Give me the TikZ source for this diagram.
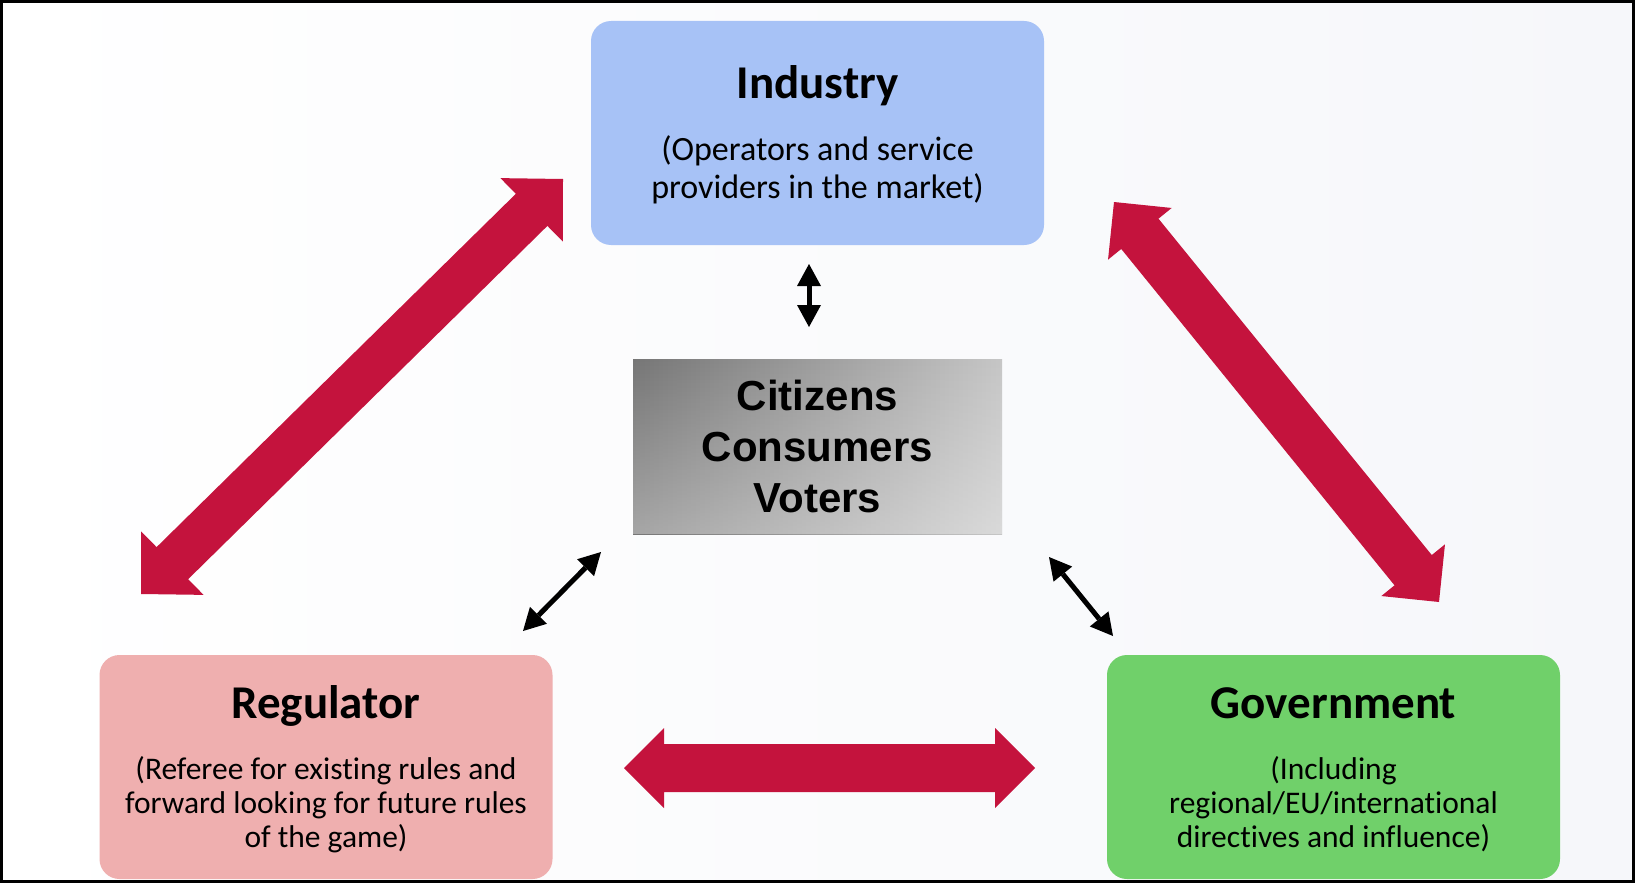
\documentclass[tikz,border=0pt]{standalone}
\usepackage{fontspec}
\setmainfont{Carlito}[Ligatures=CommonOff]
\newfontfamily\arialfont{Liberation Sans}
\usetikzlibrary{calc,arrows.meta,fadings}
\definecolor{indblue}{HTML}{A7C2F6}
\definecolor{regpink}{HTML}{EFAFAF}
\definecolor{govgreen}{HTML}{70D06A}
\definecolor{arrred}{HTML}{C4133D}
\definecolor{gdark}{HTML}{767676}
\definecolor{glight}{HTML}{C6C6C6}
\definecolor{bgtint}{HTML}{F6F7FA}
\newcommand\dblarrow[5]{% A, B, head length, head half width, shaft half width
  \coordinate (#1h) at ($(#1)!#3!(#2)$);
  \coordinate (#2h) at ($(#2)!#3!(#1)$);
  \fill[arrred] (#1) -- ($(#1h)!#4!90:(#2)$) -- ($(#1h)!#5!90:(#2)$)
    -- ($(#2h)!#5!-90:(#1)$) -- ($(#2h)!#4!-90:(#1)$) -- (#2)
    -- ($(#2h)!#4!90:(#1)$) -- ($(#2h)!#5!90:(#1)$)
    -- ($(#1h)!#5!-90:(#2)$) -- ($(#1h)!#4!-90:(#2)$) -- cycle;}
\tikzset{
  box/.style={rounded corners=20pt, minimum width=453pt, minimum height=224pt, inner sep=0pt},
  title/.style={anchor=base, font=\fontsize{47}{56}\selectfont\bfseries},
  subA/.style={anchor=base, align=center, font=\fontsize{34}{38}\selectfont},
  subB/.style={anchor=base, align=center, font=\fontsize{31.5}{34}\selectfont},
  smallarr/.style={line width=5pt, {Triangle[length=22pt,width=24pt,line width=0pt]}-{Triangle[length=22pt,width=24pt,line width=0pt]}}
}
\begin{document}
\begin{tikzpicture}[x=1pt,y=-1pt]
\useasboundingbox (0,0) rectangle (1635,883);
\shade[left color=white, right color=bgtint] (0,0) rectangle (1635,883);
% boxes
\node[box, fill=indblue] (industry) at (817.5,133) {};
\node[box, fill=regpink] (regulator) at (326,767) {};
\node[box, fill=govgreen] (government) at (1333.5,767) {};
\node[shade, left color=gdark, right color=glight, minimum width=369pt, minimum height=175pt, inner sep=0pt] (citizens) at (817.5,446.5) {};
\fill[white, path fading=north, fill opacity=0.35] (citizens.north west) rectangle (citizens.south east);
% texts (multi-line nodes: base = last line)
\node[title] (indt) at (817.5,98) {Industry};
\node[subA] (inds) at (817.5,198) {(Operators and service\\providers in the market)};
\node[title] (regt) at (326,718) {Regulator};
\node[subB] (regs) at (326,847) {(Referee for existing rules and\\forward looking for future rules\\of the game)};
\node[title] (govt) at (1333.5,718) {Government};
\node[subB] (govs) at (1333.5,847) {(Including\\regional/EU/international\\directives and influence)};
\node[anchor=base, align=center, font=\arialfont\bfseries\fontsize{42}{51}\selectfont] (citt) at (817.5,512) {Citizens\\Consumers\\Voters};
% red block arrows
\coordinate (la) at (563,179); \coordinate (lb) at (141,594);
\dblarrow{la}{lb}{44pt}{44.5pt}{22.5pt}
\coordinate (ra) at (1114,202); \coordinate (rb) at (1439,602);
\dblarrow{ra}{rb}{41pt}{41pt}{24pt}
\coordinate (ha) at (624,768); \coordinate (hb) at (1035,768);
\dblarrow{ha}{hb}{40pt}{40pt}{24pt}
% small black arrows
\coordinate (ta) at (809,264); \coordinate (tb) at (809,327);
\draw[smallarr] (ta) -- (tb);
\coordinate (sla) at (601,552); \coordinate (slb) at (523,631);
\draw[smallarr] (sla) -- (slb);
\coordinate (sra) at (1049,557); \coordinate (srb) at (1113,636);
\draw[smallarr] (sra) -- (srb);
% frame
\draw[line width=3pt] (1.5,1.5) rectangle (1633.5,881.5);
\end{tikzpicture}
\end{document}
